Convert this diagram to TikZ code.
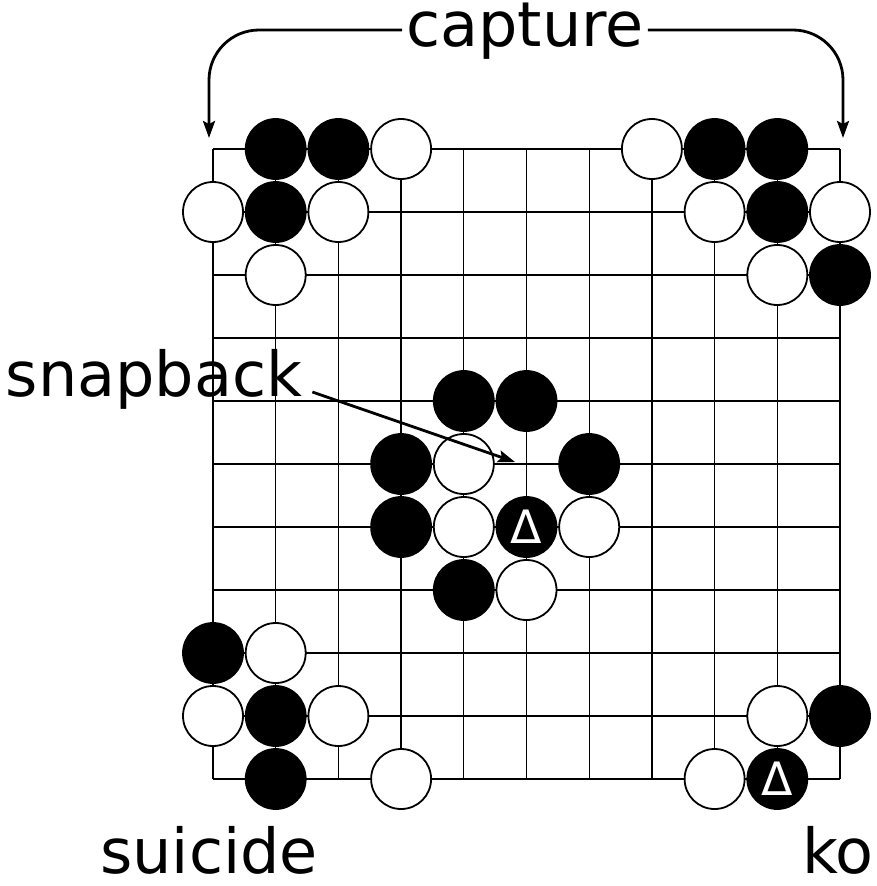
\documentclass[tikz,border=0pt]{standalone}
\usepackage{fontspec}
\setmainfont{DejaVu Sans}
\usetikzlibrary{arrows.meta}
\begin{document}
\begin{tikzpicture}[x=1pt,y=-1pt,
  gridline/.style={line width=1.3pt,draw=black},
  stonebase/.style={circle,minimum size=60pt,inner sep=0pt,line width=1.8pt,draw=black},
  bstone/.style={stonebase,fill=black},
  wstone/.style={stonebase,fill=white},
  marked/.style={bstone,text=white,font=\fontsize{46}{46}\selectfont},
  lbl/.style={font=\fontsize{62}{70}\selectfont,inner sep=0pt},
  arrowline/.style={line width=2.8pt,-{Stealth[length=17pt,width=12pt,inset=3pt]}}]
\useasboundingbox (0,0) rectangle (877,886);
% grid
\foreach \i in {0,...,10}{
  \draw[gridline] ({213+62.7*\i},149) -- ({213+62.7*\i},779);
  \draw[gridline] (213,{149+63*\i}) -- (840,{149+63*\i});
}
% black stones
\foreach \c/\r in {1/0,2/0,1/1, 8/0,9/0,9/1,10/2, 4/4,5/4,3/5,6/5,3/6,4/7, 0/8,1/9,1/10, 10/9}
  \node[bstone] (b\c-\r) at ({213+62.7*\c},{149+63*\r}) {};
% white stones
\foreach \c/\r in {3/0,0/1,2/1,1/2, 7/0,8/1,10/1,9/2, 4/5,4/6,6/6,5/7, 1/8,0/9,2/9,3/10, 9/9,8/10}
  \node[wstone] (w\c-\r) at ({213+62.7*\c},{149+63*\r}) {};
% marked black stones
\node[marked] (m5-6) at ({213+62.7*5},{149+63*6}) {Δ};
\node[marked] (m9-10) at ({213+62.7*9},{149+63*10}) {Δ};
% labels
\node[lbl,anchor=base,inner sep=4pt] (capture) at (525,46) {capture};
\node[lbl,anchor=base] (snapback) at (154,396) {snapback};
\node[lbl,anchor=base] (suicide) at (209,873) {suicide};
\node[lbl,anchor=base west] (ko) at (802,873) {ko};
% connectors
\coordinate (capL) at (209,138);
\coordinate (capR) at (843,138);
\coordinate (sbtip) at (515,462);
\draw[arrowline,rounded corners=50pt] ([yshift=16pt]capture.base west) -| (capL);
\draw[arrowline,rounded corners=50pt] ([yshift=16pt]capture.base east) -| (capR);
\draw[arrowline] (snapback.base east) ++(10,-4) -- (sbtip);
\end{tikzpicture}
\end{document}
